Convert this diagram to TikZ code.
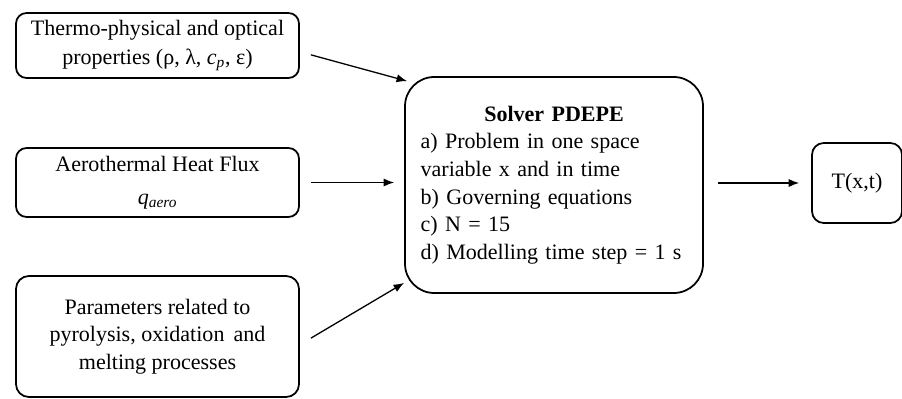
\documentclass[tikz,border=0pt]{standalone}
\usepackage{fontspec}
\setmainfont{Liberation Serif}
\usetikzlibrary{arrows.meta}
\tikzset{
  inbox/.style={draw, line width=1.5pt, rounded corners=9pt, align=center, minimum width=8.49cm, inner sep=2pt},
  flow/.style={-{Latex[length=9pt,width=7pt]}, line width=1.1pt},
}
\begin{document}
\begin{tikzpicture}[font=\fontsize{18.8}{23.5}\selectfont]
\useasboundingbox (0,0) rectangle (27.06,11.94);
% inputs
\node[inbox, minimum height=1.95cm] (thermo) at (4.725,10.575) {Thermo-physical and optical\\[2pt]properties (ρ, λ, \textit{c\textsubscript{p}}, ε)};
\node[inbox, minimum height=2.07cm] (aero) at (4.725,6.465) {Aerothermal Heat Flux\\[5pt]\textit{q\textsubscript{aero}}};
\node[inbox, minimum height=3.63cm, rounded corners=11pt] (param) at (4.725,1.845) {Parameters related to\\pyrolysis, oxidation\, and\\melting processes};
% solver
\node[inbox, rounded corners=25pt, minimum width=8.94cm, minimum height=6.48cm, text width=8.0cm, align=left] (solver) at (16.62,6.39)
  {\makebox[8.0cm]{\textbf{Solver PDEPE}}\\a) Problem in one space\\variable x and in time\\b) Governing equations\\c) N = 15\\d) Modelling time step = 1 s};
% output
\node[inbox, minimum width=2.7cm, minimum height=2.4cm, rounded corners=10pt] (temp) at (25.71,6.45) {T(x,t)};
\draw[flow] ([shift={(0.33,-0.28)}]thermo.east) -- ([shift={(0.09,-0.15)}]solver.north west);
\draw[flow] ([xshift=0.33cm]aero.east) -- ([xshift=-0.3cm]solver.west |- aero.east);
\draw[flow] ([shift={(0.33,-0.05)}]param.east) -- ([yshift=0.33cm]solver.south west);
\draw[flow] ([xshift=0.42cm]solver.east |- temp.west) -- ([xshift=-0.36cm]temp.west);
\end{tikzpicture}
\end{document}
